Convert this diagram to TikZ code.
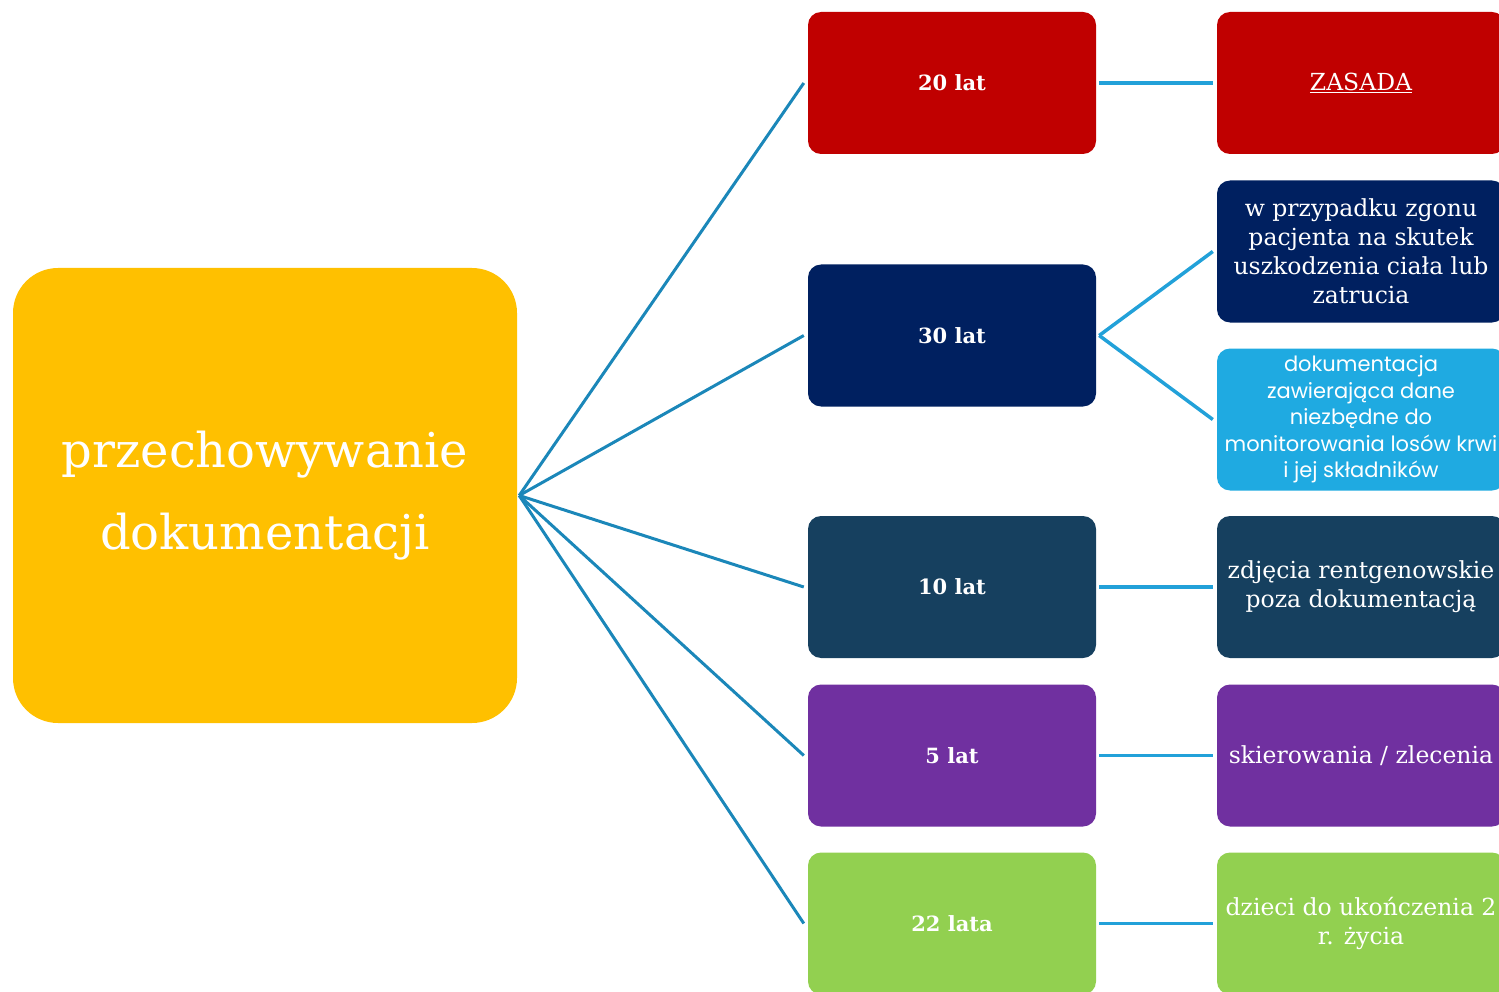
\documentclass[tikz,border=0pt]{standalone}
\usepackage{fontspec}
\newfontfamily\gothicfont{Poppins}
\newfontfamily\schfont{DejaVu Serif}
\definecolor{cyellow}{HTML}{FFC000}
\definecolor{cred}{HTML}{C00000}
\definecolor{cnavy}{HTML}{002060}
\definecolor{csky}{HTML}{1FAAE1}
\definecolor{cteal}{HTML}{16405F}
\definecolor{cpurple}{HTML}{7030A0}
\definecolor{cgreen}{HTML}{92D050}
\definecolor{linedark}{HTML}{1B87B9}
\definecolor{linelight}{HTML}{22A1D9}
\tikzset{
  mainbox/.style={rectangle, rounded corners=45pt, minimum width=504pt, minimum height=455pt, inner sep=0pt, text=white, align=center, font=\fontsize{48}{82}\selectfont\schfont},
  midbox/.style={rectangle, rounded corners=13pt, minimum width=288pt, minimum height=142pt, inner sep=0pt, text=white, align=center, font=\fontsize{21}{29}\selectfont\schfont\bfseries},
  rightbox/.style={rectangle, rounded corners=13pt, minimum width=288pt, minimum height=142pt, inner sep=0pt, text=white, align=center, font=\fontsize{23.5}{29}\selectfont\schfont},
  sansbox/.style={rightbox, font=\fontsize{21}{26.5}\selectfont\gothicfont},
  leftline/.style={draw=linedark, line width=3pt},
  rightline/.style={draw=linelight, line width=3.5pt}
}
\begin{document}
\begin{tikzpicture}[x=1pt,y=-1pt]
\useasboundingbox (0,0) rectangle (1499,992);
\clip (0,0) rectangle (1499,992);
\node[mainbox, fill=cyellow] (main) at (265,495.5) {przechowywanie\\dokumentacji};
\node[midbox, fill=cred] (m20) at (952,83) {20 lat};
\node[midbox, fill=cnavy] (m30) at (952,335.5) {30 lat};
\node[midbox, fill=cteal] (m10) at (952,587) {10 lat};
\node[midbox, fill=cpurple] (m5) at (952,755.5) {5 lat};
\node[midbox, fill=cgreen] (m22) at (952,923.5) {22 lata};
\node[rightbox, fill=cred] (r20) at (1361,83) {\underline{ZASADA}};
\node[rightbox, fill=cnavy] (r30a) at (1361,251.5) {w przypadku zgonu\\pacjenta na skutek\\uszkodzenia ciała lub\\zatrucia};
\node[sansbox, fill=csky] (r30b) at (1361,419.5) {dokumentacja\\zawierająca dane\\niezbędne do\\monitorowania losów krwi\\i jej składników};
\node[rightbox, fill=cteal] (r10) at (1361,587) {zdjęcia rentgenowskie\\poza dokumentacją};
\node[rightbox, fill=cpurple] (r5) at (1361,755.5) {skierowania / zlecenia};
\node[rightbox, fill=cgreen] (r22) at (1361,923.5) {dzieci do ukończenia 2\\r. życia};
\coordinate (hub) at ([xshift=2pt]main.east);
\foreach \m in {m20,m30,m10,m5,m22}
  \draw[leftline] (hub) -- ([xshift=-4pt]\m.west);
\draw[rightline] ([xshift=3pt]m20.east) -- ([xshift=-4pt]r20.west);
\draw[rightline] ([xshift=3pt]m30.east) -- ([xshift=-4pt]r30a.west);
\draw[rightline] ([xshift=3pt]m30.east) -- ([xshift=-4pt]r30b.west);
\draw[rightline] ([xshift=3pt]m10.east) -- ([xshift=-4pt]r10.west);
\draw[rightline] ([xshift=3pt]m5.east) -- ([xshift=-4pt]r5.west);
\draw[rightline] ([xshift=3pt]m22.east) -- ([xshift=-4pt]r22.west);
\end{tikzpicture}
\end{document}
